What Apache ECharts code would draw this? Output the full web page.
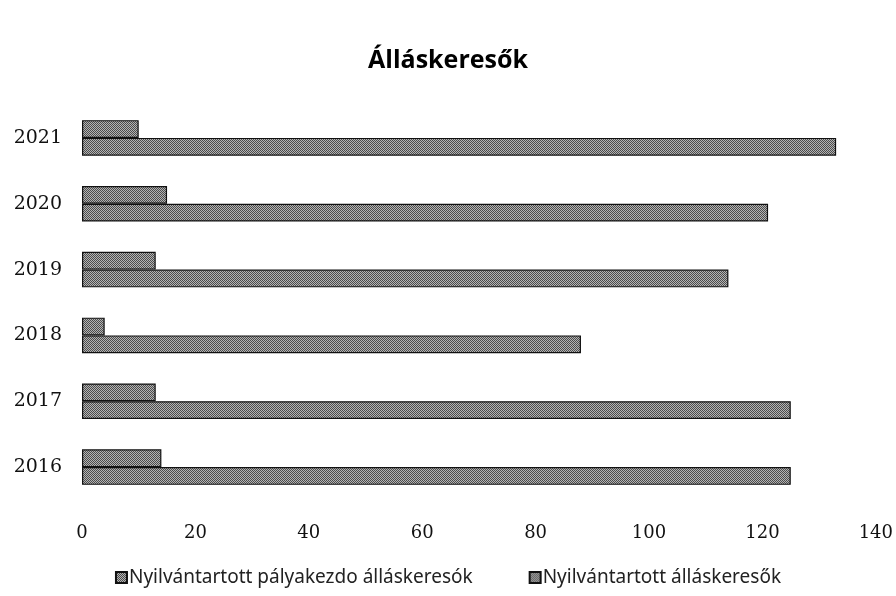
<!DOCTYPE html>
<html>
<head>
<meta charset="utf-8">
<script src="https://cdn.jsdelivr.net/npm/echarts@6/dist/echarts.min.js"></script>
<style>
html,body{margin:0;padding:0;background:#fff;}
#c{width:896px;height:596px;}
</style>
</head>
<body>
<div id="c"></div>
<script>
const years = ['2016', '2017', '2018', '2019', '2020', '2021'];
const palyakezdo = [14, 13, 4, 13, 15, 10];
const allaskereso = [125, 125, 88, 114, 121, 133];
const xTicks = [0, 20, 40, 60, 80, 100, 120, 140];
const seriesNames = ['Nyilvántartott pályakezdo álláskeresók', 'Nyilvántartott álláskeresők'];

function makePattern() {
  const cv = document.createElement('canvas');
  cv.width = 4; cv.height = 4;
  const ctx = cv.getContext('2d');
  ctx.fillStyle = '#b4b4b4';
  ctx.fillRect(0, 0, 4, 4);
  ctx.fillStyle = '#4c4c4c';
  for (let y = 0; y < 4; y++) {
    for (let x = 0; x < 4; x++) {
      if ((x + y) % 2 === 0) ctx.fillRect(x, y, 1, 1);
    }
  }
  return { image: cv, repeat: 'repeat' };
}
const pat = makePattern();

const chart = echarts.init(document.getElementById('c'), null, { renderer: 'canvas' });
chart.setOption({
  backgroundColor: '#ffffff',
  animation: false,
  title: {
    text: 'Álláskeresők',
    left: 'center',
    top: 43,
    textStyle: { fontFamily: 'Open Sans', fontWeight: 'bold', fontSize: 25, color: '#000' }
  },
  legend: {
    data: seriesNames,
    bottom: 4,
    left: 'center',
    itemGap: 56,
    itemWidth: 11,
    itemHeight: 11,
    icon: 'rect',
    textStyle: { fontFamily: 'Noto Sans', fontSize: 19, color: '#222', padding: [0, 0, 0, -3] }
  },
  grid: { left: 82, right: 20, top: 105, bottom: 96, containLabel: false },
  xAxis: {
    type: 'value',
    min: 0, max: 140, interval: 20,
    axisLine: { show: false },
    axisTick: { show: false },
    splitLine: { show: false },
    axisLabel: {
      margin: 24,
      fontFamily: 'DejaVu Serif', fontSize: 18, color: '#111',
      formatter: v => (xTicks.indexOf(v) >= 0 ? String(v) : '')
    }
  },
  yAxis: {
    type: 'category',
    data: years,
    axisLine: { show: false },
    axisTick: { show: false },
    splitLine: { show: false },
    axisLabel: { margin: 20, fontFamily: 'DejaVu Serif', fontSize: 19, color: '#111' }
  },
  series: [
    {
      name: seriesNames[0],
      type: 'bar',
      data: palyakezdo,
      barGap: '0%',
      barCategoryGap: '46%',
      itemStyle: { color: pat, borderColor: '#111', borderWidth: 1.2 }
    },
    {
      name: seriesNames[1],
      type: 'bar',
      data: allaskereso,
      barGap: '0%',
      barCategoryGap: '46%',
      itemStyle: { color: pat, borderColor: '#111', borderWidth: 1.2 }
    }
  ]
});
</script>
</body>
</html>
